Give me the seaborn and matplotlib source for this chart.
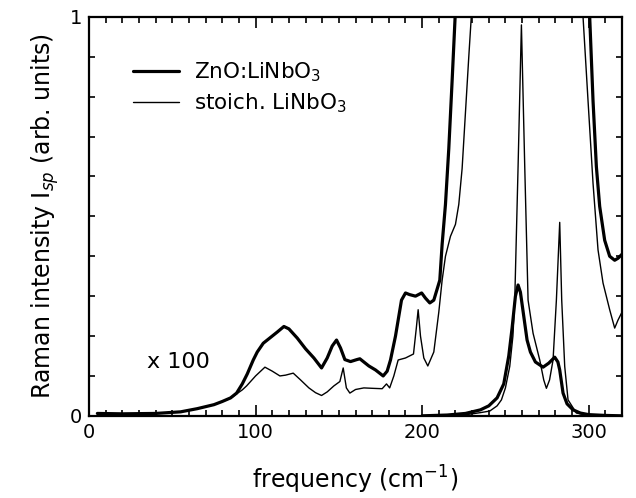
import numpy as np
import seaborn as sns
import matplotlib.pyplot as plt
from matplotlib.ticker import MultipleLocator

# ZnO:LiNbO3, scaled x100
zno_x100_f = [5, 20, 40, 55, 65, 75, 80, 85, 88.6, 92, 95, 98.6, 101, 104.6, 110, 113, 117, 120,
              125, 130, 135, 139.6, 143, 146, 148.6, 151, 153.6, 157, 160.8, 162.6, 168, 172, 176.6,
              179, 181, 184, 187.6, 190, 192.4, 196, 199.7, 202, 204.6, 207, 210.6, 212, 214,
              216, 218, 219.8, 222, 296, 298, 300.6, 302.6, 304.6, 306.6, 309.6, 312.6, 315.6,
              317.6, 320]
zno_x100_i = [0.006, 0.005, 0.006, 0.01, 0.018, 0.028, 0.036, 0.045, 0.057, 0.08, 0.105, 0.14,
              0.16, 0.182, 0.2, 0.21, 0.224, 0.218, 0.195, 0.168, 0.145, 0.12, 0.145, 0.175, 0.19,
              0.17, 0.141, 0.136, 0.141, 0.143, 0.125, 0.115, 0.1, 0.112, 0.14, 0.2, 0.29, 0.308,
              0.304, 0.3, 0.308, 0.295, 0.283, 0.29, 0.34, 0.43, 0.53, 0.67, 0.84, 1.0, 1.3, 1.3,
              1.15, 1.0, 0.79, 0.625, 0.525, 0.44, 0.4, 0.39, 0.395, 0.405]

# stoichiometric LiNbO3, scaled x100
sto_x100_f = [5, 20, 40, 55, 65, 75, 80, 85, 88.6, 92, 94.6, 100, 105.6, 110, 114.6, 118, 122.6,
              127, 132, 136, 139.6, 143, 147, 150.6, 152.6, 154.5, 156.6, 160, 165, 170, 176,
              178.6, 180.5, 183, 185.6, 190, 194.8, 196.5, 197.6, 199, 201, 203.4, 207, 210,
              212, 214, 217, 220, 222, 224, 226, 228, 229.5, 232, 294, 296.6, 299.6, 302.6,
              305.6, 308.6, 312.6, 315.6, 317.6, 320]
sto_x100_i = [0.006, 0.005, 0.006, 0.01, 0.018, 0.028, 0.036, 0.044, 0.055, 0.065, 0.075, 0.1,
              0.122, 0.112, 0.1, 0.102, 0.107, 0.09, 0.07, 0.058, 0.051, 0.06, 0.075, 0.086, 0.12,
              0.07, 0.057, 0.066, 0.07, 0.069, 0.068, 0.08, 0.07, 0.1, 0.14, 0.145, 0.155, 0.22,
              0.266, 0.2, 0.145, 0.125, 0.16, 0.26, 0.34, 0.4, 0.45, 0.48, 0.53, 0.62, 0.76, 0.9,
              1.0, 1.3, 1.3, 1.0, 0.79, 0.583, 0.416, 0.333, 0.266, 0.22, 0.24, 0.26]

# unscaled spectra
zno_f = [200, 215, 226, 235, 240, 245, 249, 252, 254, 256, 257.6, 259, 261, 263, 265, 268,
         272.6, 276, 279.6, 281.5, 282.6, 284.6, 287, 290.6, 295, 300, 310, 320]
zno_i = [0.0, 0.002, 0.006, 0.015, 0.025, 0.045, 0.08, 0.15, 0.22, 0.3, 0.328, 0.31, 0.25,
         0.19, 0.16, 0.135, 0.122, 0.132, 0.147, 0.135, 0.115, 0.057, 0.03, 0.015, 0.007,
         0.003, 0.001, 0.0]
sto_f = [215, 225, 235, 240.6, 245, 247.6, 250, 252.6, 254.5, 255.6, 257.6, 259.6, 261.6, 263.6,
         266.6, 270.6, 273, 274.6, 276.5, 278.6, 280.6, 282.6, 283.8, 285.6, 287.6, 292.6,
         300, 320]
sto_i = [0.0, 0.002, 0.008, 0.012, 0.025, 0.04, 0.07, 0.124, 0.2, 0.29, 0.625, 0.98, 0.625,
         0.29, 0.207, 0.14, 0.09, 0.069, 0.09, 0.14, 0.29, 0.485, 0.29, 0.124, 0.04, 0.007,
         0.001, 0.0]

sns.set_style("ticks")
plt.rcParams['font.family'] = ['DejaVu Sans']
plt.rcParams['text.color'] = 'black'
plt.rcParams['axes.labelcolor'] = 'black'

fig = plt.figure(figsize=(6.36, 4.98), dpi=100)
ax = fig.add_axes([0.14, 0.165, 0.838, 0.801])

thick, thin = 2.3, 1.0
sns.lineplot(x=zno_x100_f, y=zno_x100_i, ax=ax, color='black', lw=thick, label='ZnO:LiNbO$_3$')
sns.lineplot(x=sto_x100_f, y=sto_x100_i, ax=ax, color='black', lw=thin, label='stoich. LiNbO$_3$')
sns.lineplot(x=zno_f, y=zno_i, ax=ax, color='black', lw=thick)
sns.lineplot(x=sto_f, y=sto_i, ax=ax, color='black', lw=thin)

ax.set_xlim(0, 320)
ax.set_ylim(0, 1)
ax.set_xticks([0, 100, 200, 300])
ax.set_yticks([0, 1])
ax.xaxis.set_minor_locator(MultipleLocator(10))
ax.yaxis.set_minor_locator(MultipleLocator(0.1))
ax.tick_params(which='both', direction='in', top=True, right=True, labelsize=14, width=1.2,
               colors='black')
ax.tick_params(which='major', length=8, pad=5)
ax.tick_params(which='minor', length=4.5)
for s in ax.spines.values():
    s.set_linewidth(1.6)
    s.set_color('black')

ax.set_xlabel('frequency (cm$^{-1}$)', fontsize=17, labelpad=16)
ax.set_ylabel('Raman intensity I$_{sp}$ (arb. units)', fontsize=17, labelpad=6)
ax.text(35, 0.135, 'x 100', fontsize=16, va='center')

ax.legend(loc='upper left', bbox_to_anchor=(0.046, 0.94), frameon=False, fontsize=15.5,
          handlelength=2.15, handletextpad=0.7, labelspacing=0.35)

fig.savefig('out.png', dpi=100)
